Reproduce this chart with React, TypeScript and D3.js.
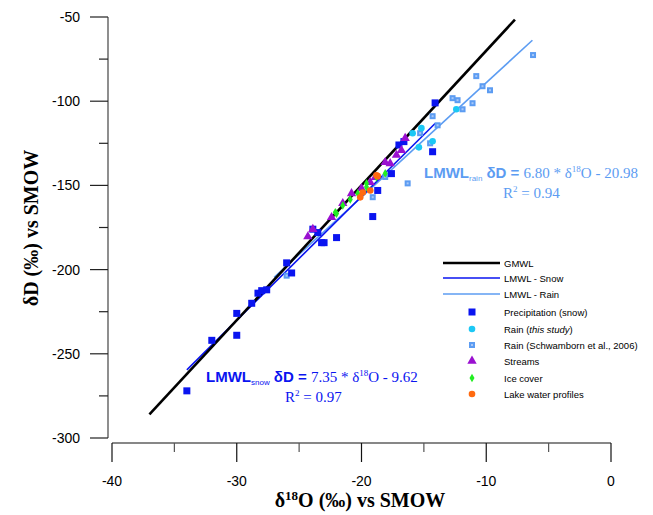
import React from "react";
import * as d3 from "d3";

// d18O, dD pairs
const snowPrecip: [number, number][] = [
  [-34.0, -272], [-32.0, -242], [-30.0, -239], [-30.0, -226], [-28.8, -220],
  [-28.3, -214], [-28.0, -212.5], [-27.6, -212], [-26.0, -196], [-25.6, -202],
  [-23.9, -176], [-23.5, -178], [-23.2, -184], [-23.0, -184], [-22.0, -181],
  [-19.1, -168.5], [-18.7, -153], [-17.6, -143], [-17.0, -126], [-16.6, -124],
  [-14.3, -130], [-14.1, -101],
];
const rainThisStudy: [number, number][] = [
  [-12.4, -104.8], [-15.2, -116], [-14.3, -123.8], [-15.9, -119], [-15.4, -127.4],
];
const rainSchwamborn: [number, number][] = [
  [-10.8, -85.1], [-10.3, -91.1], [-9.7, -93.5], [-12.7, -98.2], [-12.3, -99.4],
  [-11.1, -101.2], [-11.9, -104.8], [-14.3, -108.9], [-13.9, -114.3], [-14.5, -125],
  [-6.25, -72.6], [-15.3, -119], [-16.3, -148.8], [-19.1, -157], [-18.1, -145],
  [-26.0, -203.6],
];
const streams: [number, number][] = [
  [-24.3, -180.4], [-22.4, -169], [-21.5, -160.7], [-20.8, -154.8], [-20.0, -151.8],
  [-19.3, -148.2], [-18.9, -145.2], [-18.1, -136.3], [-17.7, -137], [-17.2, -132],
  [-16.8, -129.2], [-16.5, -122], [-23.9, -176],
];
const iceCover: [number, number][] = [
  [-22.1, -166], [-21.5, -161.9], [-20.9, -158.3], [-20.3, -154.8], [-19.6, -148.8],
  [-18.8, -145.2], [-18.1, -142.9], [-22.0, -166.7], [-19.6, -151],
];
const lakeProfiles: [number, number][] = [
  [-20.1, -157.1], [-19.9, -154.2], [-19.3, -153], [-18.8, -144], [-18.7, -144.5],
];

// regression lines: slope, intercept, x-range
const gmwl = { slope: 8, intercept: 10, from: -37, to: -7.7 };
const lmwlSnow = { slope: 7.35, intercept: -9.62, from: -34, to: -14.1 };
const lmwlRain = { slope: 6.8, intercept: -20.98, from: -27, to: -6.3 };

const xTicks = [-40, -30, -20, -10, 0];
const yTicks = [-50, -100, -150, -200, -250, -300];

const W = 653;
const H = 515;

const C = {
  snow: "#0a14f0",
  rain: "#5c9cf2",
  cyan: "#1cc8f5",
  purple: "#9a10d0",
  green: "#22ee22",
  orange: "#ff6a10",
};

type Line = { slope: number; intercept: number; from: number; to: number };

export default function App() {
  const x = d3.scaleLinear().domain([-40, 0]).range([112, 611]);
  const y = d3.scaleLinear().domain([-300, -50]).range([438, 17]);

  const seg = (l: Line) =>
    d3.line<number>()
      .x((d) => x(d))
      .y((d) => y(l.slope * d + l.intercept))([l.from, l.to])!;

  const tri = d3.symbol().type(d3.symbolTriangle).size(38)()!;
  const diamond = d3.symbol().type(d3.symbolDiamond).size(22)()!;

  const xMinor = d3.range(-35, 0, 10);
  const yMinor = d3.range(-75, -300, -50);

  const sans = "Liberation Sans, Arial, sans-serif";
  const serif = "Liberation Serif, Times New Roman, serif";

  const legendLines = [
    { label: "GMWL", color: "#000", w: 2.5, yy: 263 },
    { label: "LMWL - Snow", color: C.snow, w: 1.6, yy: 278 },
    { label: "LMWL - Rain", color: C.rain, w: 1.6, yy: 294 },
  ];
  const legendMarks = [
    { label: "Precipitation (snow)", yy: 312, kind: "sq" },
    { label: "Rain (", italic: "this study", tail: ")", yy: 329, kind: "cyan" },
    { label: "Rain (Schwamborn et al., 2006)", yy: 345, kind: "sq2" },
    { label: "Streams", yy: 361, kind: "tri" },
    { label: "Ice cover", yy: 378, kind: "dia" },
    { label: "Lake water profiles", yy: 394, kind: "orange" },
  ];

  const marker = (kind: string, cx: number, cy: number, key?: string | number) => {
    switch (kind) {
      case "sq":
        return <rect key={key} x={cx - 3.5} y={cy - 3.5} width={7} height={7} fill={C.snow} />;
      case "sq2":
        return (
          <g key={key}>
            <rect x={cx - 3} y={cy - 3} width={6} height={6} fill={C.rain} />
            <rect x={cx - 1} y={cy - 1} width={2} height={2} fill="#a8c8f8" />
          </g>
        );
      case "cyan":
        return <circle key={key} cx={cx} cy={cy} r={3.3} fill={C.cyan} />;
      case "tri":
        return <path key={key} d={tri} transform={`translate(${cx},${cy})`} fill={C.purple} />;
      case "dia":
        return <path key={key} d={diamond} transform={`translate(${cx},${cy})`} fill={C.green} />;
      default:
        return <circle key={key} cx={cx} cy={cy} r={3.3} fill={C.orange} />;
    }
  };

  const equation = (
    px: number, py: number, sub: string, slope: string, icpt: string,
    r2x: number, r2: string, color: string,
  ) => (
    <g fill={color}>
      <text x={px} y={py} fontSize={15}>
        <tspan fontFamily={sans} fontWeight="bold">LMWL</tspan>
        <tspan fontFamily={sans} fontSize={8} dy={3}>{sub}</tspan>
        <tspan fontFamily={sans} fontWeight="bold" dy={-3}> δD = </tspan>
        <tspan fontFamily={serif}>{slope} * δ</tspan>
        <tspan fontFamily={serif} fontSize={9} dy={-6}>18</tspan>
        <tspan fontFamily={serif} dy={6}>O - {icpt}</tspan>
      </text>
      <text x={r2x} y={py + 20} fontSize={15} fontFamily={serif}>
        R<tspan fontSize={9} dy={-6}>2</tspan>
        <tspan dy={6}> = {r2}</tspan>
      </text>
    </g>
  );

  return (
    <svg
      width={W}
      height={H}
      style={{ position: "absolute", left: 0, top: 0, background: "#fff" }}
    >
      {/* y axis */}
      <line x1={108} x2={108} y1={y(-50)} y2={y(-300)} stroke="#444" strokeWidth={1.2} />
      {yTicks.map((t) => (
        <g key={t}>
          <line x1={90} x2={108} y1={y(t)} y2={y(t)} stroke="#222" strokeWidth={1.2} />
          <text x={80} y={y(t) + 5} textAnchor="end" fontFamily={sans} fontSize={14}>
            {t}
          </text>
        </g>
      ))}
      {yMinor.map((t) => (
        <line key={t} x1={99} x2={108} y1={y(t)} y2={y(t)} stroke="#222" strokeWidth={1.2} />
      ))}

      {/* x axis */}
      <line x1={x(-40)} x2={x(0)} y1={443} y2={443} stroke="#111" strokeWidth={1.2} />
      {xTicks.map((t) => (
        <g key={t}>
          <line x1={x(t)} x2={x(t)} y1={443} y2={462} stroke="#111" strokeWidth={1.2} />
          <text x={x(t)} y={486} textAnchor="middle" fontFamily={sans} fontSize={14}>
            {t}
          </text>
        </g>
      ))}
      {xMinor.map((t) => (
        <line key={t} x1={x(t)} x2={x(t)} y1={443} y2={452} stroke="#555" strokeWidth={1.2} />
      ))}

      {/* axis titles */}
      <text x={360} y={507} textAnchor="middle" fontFamily={serif} fontWeight="bold" fontSize={20}>
        δ<tspan fontSize={13} dy={-7}>18</tspan>
        <tspan dy={7}>O (‰) vs SMOW</tspan>
      </text>
      <text
        transform="translate(38,228) rotate(-90)"
        textAnchor="middle"
        fontFamily={serif}
        fontWeight="bold"
        fontSize={20}
      >
        δD (‰) vs SMOW
      </text>

      {/* water lines */}
      <path d={seg(lmwlRain)} stroke={C.rain} strokeWidth={1.6} fill="none" />
      <path d={seg(lmwlSnow)} stroke={C.snow} strokeWidth={1.6} fill="none" />
      <path d={seg(gmwl)} stroke="#000" strokeWidth={2.6} fill="none" />

      {/* points */}
      {rainSchwamborn.map((d, i) => marker("sq2", x(d[0]), y(d[1]), "s" + i))}
      {snowPrecip.map((d, i) => marker("sq", x(d[0]), y(d[1]), "p" + i))}
      {rainThisStudy.map((d, i) => marker("cyan", x(d[0]), y(d[1]), "c" + i))}
      {streams.map((d, i) => marker("tri", x(d[0]), y(d[1]), "t" + i))}
      {iceCover.map((d, i) => marker("dia", x(d[0]), y(d[1]), "d" + i))}
      {lakeProfiles.map((d, i) => marker("orange", x(d[0]), y(d[1]), "o" + i))}

      {/* legend */}
      {legendLines.map((l) => (
        <g key={l.label}>
          <line x1={443} x2={500} y1={l.yy} y2={l.yy} stroke={l.color} strokeWidth={l.w} />
          <text x={504} y={l.yy + 3.5} fontFamily={sans} fontSize={9.5}>
            {l.label}
          </text>
        </g>
      ))}
      {legendMarks.map((l) => (
        <g key={l.label}>
          {marker(l.kind, 472, l.yy)}
          <text x={504} y={l.yy + 3.5} fontFamily={sans} fontSize={9.5}>
            {l.label}
            {l.italic && <tspan fontStyle="italic">{l.italic}</tspan>}
            {l.tail}
          </text>
        </g>
      ))}

      {equation(424, 178, "rain", "6.80", "20.98", 503, "0.94", C.rain)}
      {equation(206, 382, "snow", "7.35", "9.62", 285, "0.97", C.snow)}
    </svg>
  );
}
